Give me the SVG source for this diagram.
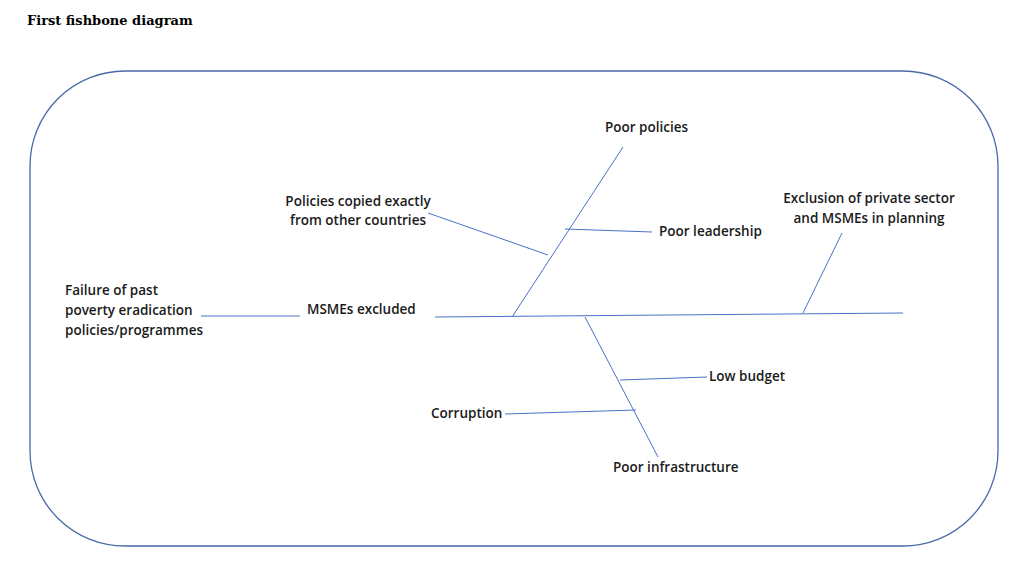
<svg xmlns="http://www.w3.org/2000/svg" width="1024" height="582" viewBox="0 0 1024 582">
<style>
.t{font-family:"Open Sans","Noto Sans",sans-serif;font-size:13.5px;font-weight:600;fill:#1a1a1a}
.l{stroke:#4a72c4;stroke-width:1;fill:none}
</style>
<rect width="1024" height="582" fill="#fff"/>
<text x="27" y="25" font-family="DejaVu Serif,serif" font-weight="bold" font-size="13" fill="#000">First fishbone diagram</text>
<rect x="30" y="71" width="968" height="475" rx="95" fill="none" stroke="#4a6aa8" stroke-width="1.3"/>
<g id="connectors">
<line class="l" x1="435" y1="317" x2="903" y2="313"/>
<line class="l" x1="512" y1="317" x2="623" y2="147"/>
<line class="l" x1="428" y1="213" x2="548" y2="255"/>
<line class="l" x1="565" y1="229" x2="652" y2="232"/>
<line class="l" x1="803" y1="313" x2="842" y2="233"/>
<line class="l" x1="585" y1="317" x2="658" y2="457"/>
<line class="l" x1="620" y1="380" x2="707" y2="377"/>
<line class="l" x1="505" y1="414" x2="636" y2="410"/>
<line class="l" x1="201" y1="316" x2="300" y2="316"/>
</g>
<g id="n-failure"><text class="t" x="65" y="295">Failure of past</text><text class="t" x="65" y="315">poverty eradication</text><text class="t" x="65" y="335">policies/programmes</text></g>
<g id="n-msme"><text class="t" x="307" y="314">MSMEs excluded</text></g>
<g id="n-policies"><text class="t" x="605" y="132">Poor policies</text></g>
<g id="n-copied"><text class="t" x="358" y="206" text-anchor="middle">Policies copied exactly</text><text class="t" x="358" y="225" text-anchor="middle">from other countries</text></g>
<g id="n-leadership"><text class="t" x="659" y="236">Poor leadership</text></g>
<g id="n-exclusion"><text class="t" x="869" y="203" text-anchor="middle">Exclusion of private sector</text><text class="t" x="869" y="223" text-anchor="middle">and MSMEs in planning</text></g>
<g id="n-budget"><text class="t" x="709" y="381">Low budget</text></g>
<g id="n-corruption"><text class="t" x="431" y="418">Corruption</text></g>
<g id="n-infra"><text class="t" x="613" y="472">Poor infrastructure</text></g>
</svg>
